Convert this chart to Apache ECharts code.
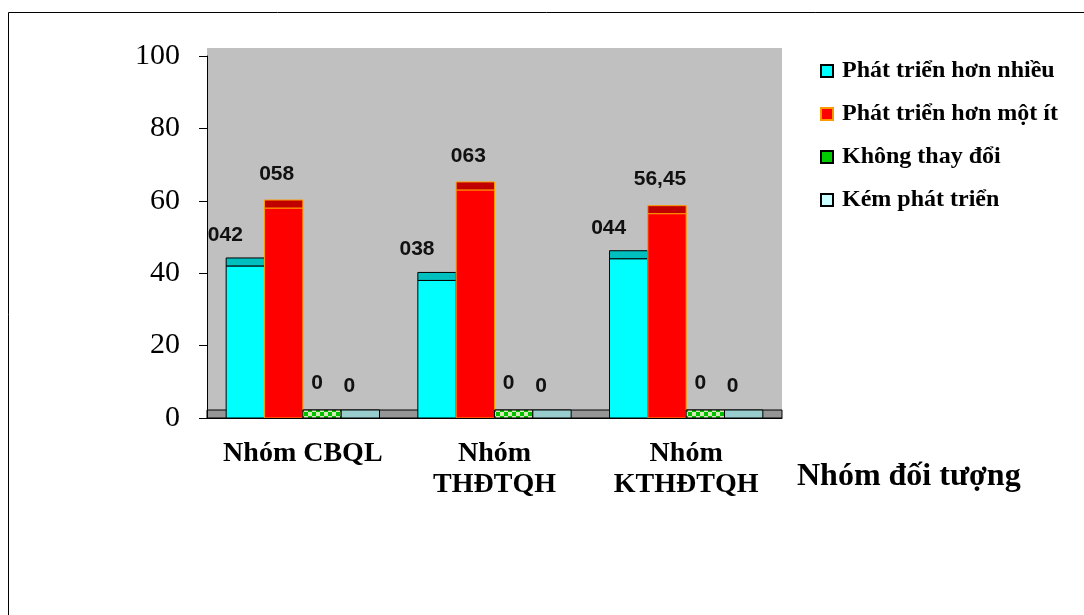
<!DOCTYPE html>
<html>
<head>
<meta charset="utf-8">
<script src="https://cdn.jsdelivr.net/npm/echarts@6/dist/echarts.min.js"></script>
<style>
  html, body { margin: 0; padding: 0; background: #ffffff; }
  #chart { width: 1084px; height: 615px; }
</style>
</head>
<body>
<div id="chart"></div>
<script>
// ---- data ----
const categories = ['Nhóm CBQL', 'Nhóm\nTHĐTQH', 'Nhóm\nKTHĐTQH'];
const seriesNames = ['Phát triển hơn nhiều', 'Phát triển hơn một ít', 'Không thay đổi', 'Kém phát triển'];
const phatTrienHonNhieu = [42, 38, 44];
const phatTrienHonMotIt = [58, 63, 56.45];
const khongThayDoi = [0, 0, 0];
const kemPhatTrien = [0, 0, 0];
const yTicks = [0, 20, 40, 60, 80, 100];
const axisTitle = 'Nhóm đối tượng';

// ---- styling ----
const SERIF = '"Liberation Serif", "Times New Roman", serif';
const SANS = '"Liberation Sans", Arial, sans-serif';
const DEPTH = 8;          // pixel depth of the column tops and floor
const GROUP_RATIO = 0.8;  // share of each category band used by its columns

function checkerCanvas() {
  const c = document.createElement('canvas');
  c.width = 8; c.height = 8;
  const g = c.getContext('2d');
  g.fillStyle = '#00C000';
  g.fillRect(0, 0, 8, 8);
  g.fillStyle = '#D6E8B4';
  g.fillRect(0, 0, 4, 4);
  g.fillRect(4, 4, 4, 4);
  return c;
}
const checker = { image: checkerCanvas(), repeat: 'repeat' };

const looks = [
  { front: '#00FFFF', top: '#00BFBF', edge: '#000000', legend: '#00FFFF', legendEdge: '#000000', dx: -20, dy: -31 },
  { front: '#FF0000', top: '#C00000', edge: '#FF9900', legend: '#FF0000', legendEdge: '#FF9900', dx: -7, dy: -34 },
  { front: '#00FF00', top: checker, edge: '#000000', legend: '#00CC00', legendEdge: '#000000', dx: -5, dy: -35 },
  { front: '#CCFFFF', top: '#99CCCC', edge: '#000000', legend: '#CCFFFF', legendEdge: '#000000', dx: -11, dy: -32 }
];
const seriesValues = [phatTrienHonNhieu, phatTrienHonMotIt, khongThayDoi, kemPhatTrien];

function fmt(v) {
  if (v === 0) return '0';
  if (Number.isInteger(v)) return String(v).padStart(3, '0');
  return v.toFixed(2).replace('.', ',');
}

function barRenderer(k) {
  return function (params, api) {
    const cat = api.value(0);
    const v = api.value(1);
    const base = api.coord([cat, 0]);
    const top = api.coord([cat, v]);
    const bandW = api.size([1, 0])[0];
    const groupW = bandW * GROUP_RATIO;
    const w = groupW / 4;
    const x = base[0] - groupW / 2 + k * w;
    const L = looks[k];
    const children = [];
    const h = base[1] - top[1];
    if (h > 0) {
      children.push({
        type: 'rect',
        shape: { x: x, y: top[1], width: w, height: h },
        style: { fill: L.front, stroke: L.edge, lineWidth: 1 }
      });
    }
    children.push({
      type: 'rect',
      shape: { x: x, y: top[1] - DEPTH, width: w, height: DEPTH },
      style: { fill: L.top, stroke: L.edge, lineWidth: 1 }
    });
    children.push({
      type: 'text',
      style: {
        text: fmt(v),
        x: x + w / 2 + L.dx,
        y: top[1] + L.dy,
        fill: '#111111',
        font: 'bold 21px ' + SANS,
        align: 'center',
        verticalAlign: 'middle'
      }
    });
    return { type: 'group', children: children };
  };
}

const series = [{
  type: 'custom',
  name: 'nền',
  silent: true,
  z: 1,
  data: [[0, 0]],
  encode: { x: 0, y: 1 },
  renderItem: function (params, api) {
    const cs = params.coordSys;
    const zero = api.coord([0, 0])[1];
    return {
      type: 'group',
      children: [
        { type: 'rect', shape: { x: cs.x, y: cs.y - DEPTH, width: cs.width, height: zero - (cs.y - DEPTH) },
          style: { fill: '#C0C0C0' } },
        { type: 'rect', shape: { x: cs.x, y: zero - DEPTH, width: cs.width, height: DEPTH },
          style: { fill: '#969696', stroke: '#000000', lineWidth: 1 } }
      ]
    };
  }
}];

seriesValues.forEach(function (vals, k) {
  series.push({
    type: 'custom',
    name: seriesNames[k],
    z: 2,
    silent: true,
    itemStyle: { color: looks[k].legend, borderColor: looks[k].legendEdge, borderWidth: 2 },
    data: vals.map(function (v, i) { return [i, v]; }),
    encode: { x: 0, y: 1 },
    renderItem: barRenderer(k)
  });
});

const chart = echarts.init(document.getElementById('chart'), null, { renderer: 'canvas' });
chart.setOption({
  animation: false,
  backgroundColor: '#ffffff',
  grid: { left: 207, right: 302, top: 56, bottom: 197 },
  legend: {
    orient: 'vertical',
    left: 820,
    top: 59,
    padding: 0,
    itemWidth: 12,
    itemHeight: 12,
    itemGap: 19,
    selectedMode: false,
    icon: 'rect',
    textStyle: { fontFamily: SERIF, fontWeight: 'bold', fontSize: 24, color: '#000000', padding: [0, 0, 0, 4] },
    data: seriesNames.map(function (n, k) {
      return { name: n, itemStyle: { color: looks[k].legend, borderColor: looks[k].legendEdge, borderWidth: 2 } };
    })
  },
  xAxis: {
    type: 'category',
    data: categories,
    z: 10,
    axisLine: { lineStyle: { color: '#000000', width: 1 } },
    axisTick: { length: 7, lineStyle: { color: '#000000' } },
    axisLabel: {
      interval: 0, color: '#000000', fontFamily: SERIF, fontWeight: 'bold',
      fontSize: 28, lineHeight: 31, margin: 20
    },
    name: axisTitle,
    nameLocation: 'end',
    nameGap: 15,
    nameTextStyle: {
      fontFamily: SERIF, fontWeight: 'bold', fontSize: 32, color: '#000000',
      align: 'left', verticalAlign: 'top', padding: [43, 0, 0, 0]
    }
  },
  yAxis: {
    type: 'value',
    min: yTicks[0],
    max: yTicks[yTicks.length - 1],
    interval: yTicks[1] - yTicks[0],
    z: 10,
    axisLine: { show: true, lineStyle: { color: '#000000', width: 1 } },
    axisTick: { show: true, length: 8, lineStyle: { color: '#000000' } },
    splitLine: { show: false },
    axisLabel: { color: '#000000', fontFamily: SERIF, fontSize: 30, margin: 27 }
  },
  graphic: [{
    type: 'rect',
    shape: { x: 8.5, y: 12.5, width: 1200, height: 800 },
    style: { fill: 'none', stroke: '#000000', lineWidth: 1 },
    silent: true,
    z: 100
  }],
  series: series
});
</script>
</body>
</html>
